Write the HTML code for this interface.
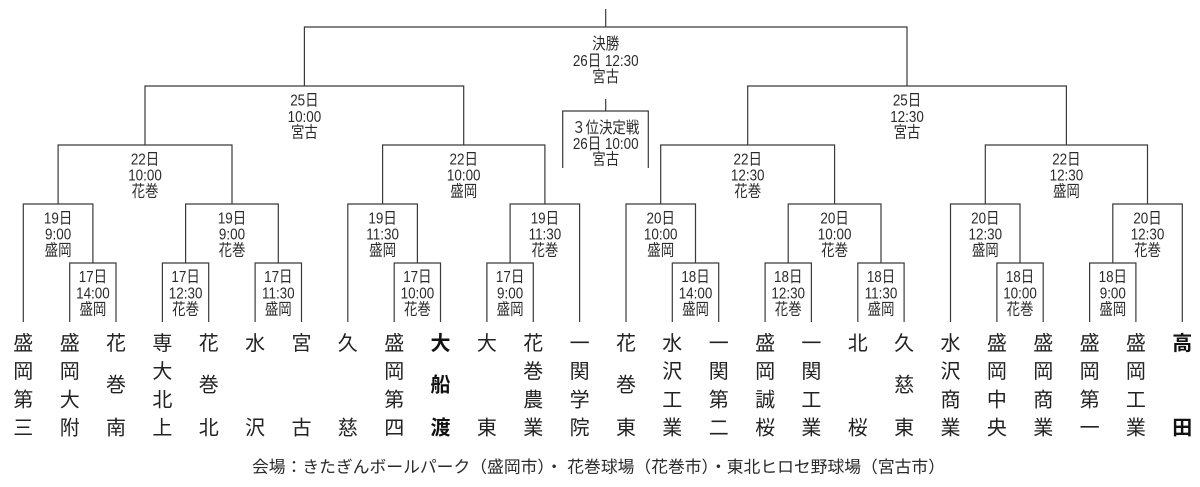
<!DOCTYPE html>
<html><head><meta charset="utf-8">
<style>
html,body{margin:0;padding:0;background:#fff;}
svg{display:block;}
.lb{font-family:"Liberation Sans","Noto Sans CJK JP",sans-serif;font-size:16px;fill:#2a2a2a;}
.tm{font-family:"Liberation Sans","Noto Sans CJK JP",sans-serif;font-size:20px;fill:#222;}
.bd{font-weight:bold;fill:#111;}
.cap{font-family:"Liberation Sans","Noto Sans CJK JP",sans-serif;font-size:16.5px;fill:#2a2a2a;}
</style></head>
<body>
<svg width="1200" height="487" viewBox="0 0 1200 487" xmlns="http://www.w3.org/2000/svg">
<g fill="none" stroke="#3a3a3a" stroke-width="1.2">
<!-- top -->
<path d="M605.7,9 V27"/>
<path d="M304.4,86 V27 H907 V86"/>
<!-- left half -->
<path d="M145,145 V86 H463.7 V145"/>
<path d="M58.1,204 V145 H232 V204"/>
<path d="M382.6,204 V145 H544.9 V204"/>
<path d="M23.3,322 V204 H92.9 V263"/>
<path d="M185.6,263 V204 H278.3 V263"/>
<path d="M347.8,322 V204 H417.4 V263"/>
<path d="M510.1,263 V204 H579.6 V322"/>
<path d="M69.7,322 V263 H116 V322"/>
<path d="M162.4,322 V263 H208.7 V322"/>
<path d="M255.1,322 V263 H301.5 V322"/>
<path d="M394.2,322 V263 H440.5 V322"/>
<path d="M486.9,322 V263 H533.3 V322"/>
<!-- right half -->
<path d="M747.7,145 V86 H1066.4 V145"/>
<path d="M660.7,204 V145 H834.6 V204"/>
<path d="M985.3,204 V145 H1147.5 V204"/>
<path d="M626,322 V204 H695.5 V263"/>
<path d="M788.2,263 V204 H881 V263"/>
<path d="M950.5,322 V204 H1020 V263"/>
<path d="M1112.8,263 V204 H1182.3 V322"/>
<path d="M672.3,322 V263 H718.7 V322"/>
<path d="M765.1,322 V263 H811.4 V322"/>
<path d="M857.8,322 V263 H904.1 V322"/>
<path d="M996.9,322 V263 H1043.2 V322"/>
<path d="M1089.6,322 V263 H1135.9 V322"/>
<!-- 3rd place -->
<path d="M605.7,99 V111"/>
<path d="M562.7,168 V111 H648.3 V168"/>
</g>

<g class="lb" text-anchor="middle">
<!-- final -->
<g transform="translate(605.7,0) scale(0.84,1)"><text x="0" y="49">決勝</text><text x="0" y="66">26日 12:30</text><text x="0" y="82">宮古</text></g>
<g transform="translate(605.7,0) scale(0.84,1)"><text x="0" y="133">３位決定戦</text><text x="0" y="149">26日 10:00</text><text x="0" y="164.5">宮古</text></g>
<!-- level1 -->
<g transform="translate(304.4,0) scale(0.84,1)"><text x="0" y="105.5">25日</text><text x="0" y="122">10:00</text><text x="0" y="137.5">宮古</text></g>
<g transform="translate(907,0) scale(0.84,1)"><text x="0" y="105.5">25日</text><text x="0" y="122">12:30</text><text x="0" y="137.5">宮古</text></g>
<!-- level2 -->
<g transform="translate(145,0) scale(0.84,1)"><text x="0" y="164.5">22日</text><text x="0" y="180.5">10:00</text><text x="0" y="196.5">花巻</text></g>
<g transform="translate(463.7,0) scale(0.84,1)"><text x="0" y="164.5">22日</text><text x="0" y="180.5">10:00</text><text x="0" y="196.5">盛岡</text></g>
<g transform="translate(747.7,0) scale(0.84,1)"><text x="0" y="164.5">22日</text><text x="0" y="180.5">12:30</text><text x="0" y="196.5">花巻</text></g>
<g transform="translate(1066.4,0) scale(0.84,1)"><text x="0" y="164.5">22日</text><text x="0" y="180.5">12:30</text><text x="0" y="196.5">盛岡</text></g>
<!-- level3 -->
<g transform="translate(58.1,0) scale(0.84,1)"><text x="0" y="223.5">19日</text><text x="0" y="239.5">9:00</text><text x="0" y="255.5">盛岡</text></g>
<g transform="translate(232,0) scale(0.84,1)"><text x="0" y="223.5">19日</text><text x="0" y="239.5">9:00</text><text x="0" y="255.5">花巻</text></g>
<g transform="translate(382.6,0) scale(0.84,1)"><text x="0" y="223.5">19日</text><text x="0" y="239.5">11:30</text><text x="0" y="255.5">盛岡</text></g>
<g transform="translate(544.9,0) scale(0.84,1)"><text x="0" y="223.5">19日</text><text x="0" y="239.5">11:30</text><text x="0" y="255.5">花巻</text></g>
<g transform="translate(660.7,0) scale(0.84,1)"><text x="0" y="223.5">20日</text><text x="0" y="239.5">10:00</text><text x="0" y="255.5">盛岡</text></g>
<g transform="translate(834.6,0) scale(0.84,1)"><text x="0" y="223.5">20日</text><text x="0" y="239.5">10:00</text><text x="0" y="255.5">花巻</text></g>
<g transform="translate(985.3,0) scale(0.84,1)"><text x="0" y="223.5">20日</text><text x="0" y="239.5">12:30</text><text x="0" y="255.5">盛岡</text></g>
<g transform="translate(1147.5,0) scale(0.84,1)"><text x="0" y="223.5">20日</text><text x="0" y="239.5">12:30</text><text x="0" y="255.5">花巻</text></g>
<!-- level4 -->
<g transform="translate(92.9,0) scale(0.84,1)"><text x="0" y="282">17日</text><text x="0" y="298.5">14:00</text><text x="0" y="314.5">盛岡</text></g>
<g transform="translate(185.6,0) scale(0.84,1)"><text x="0" y="282">17日</text><text x="0" y="298.5">12:30</text><text x="0" y="314.5">花巻</text></g>
<g transform="translate(278.3,0) scale(0.84,1)"><text x="0" y="282">17日</text><text x="0" y="298.5">11:30</text><text x="0" y="314.5">盛岡</text></g>
<g transform="translate(417.4,0) scale(0.84,1)"><text x="0" y="282">17日</text><text x="0" y="298.5">10:00</text><text x="0" y="314.5">花巻</text></g>
<g transform="translate(510.1,0) scale(0.84,1)"><text x="0" y="282">17日</text><text x="0" y="298.5">9:00</text><text x="0" y="314.5">盛岡</text></g>
<g transform="translate(695.5,0) scale(0.84,1)"><text x="0" y="282">18日</text><text x="0" y="298.5">14:00</text><text x="0" y="314.5">盛岡</text></g>
<g transform="translate(788.2,0) scale(0.84,1)"><text x="0" y="282">18日</text><text x="0" y="298.5">12:30</text><text x="0" y="314.5">花巻</text></g>
<g transform="translate(881,0) scale(0.84,1)"><text x="0" y="282">18日</text><text x="0" y="298.5">11:30</text><text x="0" y="314.5">盛岡</text></g>
<g transform="translate(1020,0) scale(0.84,1)"><text x="0" y="282">18日</text><text x="0" y="298.5">10:00</text><text x="0" y="314.5">花巻</text></g>
<g transform="translate(1112.8,0) scale(0.84,1)"><text x="0" y="282">18日</text><text x="0" y="298.5">9:00</text><text x="0" y="314.5">盛岡</text></g>
</g>

<g class="tm" text-anchor="middle">
<!-- 4-char rows: 350, 378, 406.5, 434.5 ; 3-char middle 391.5 -->
<text x="23.3" y="350">盛</text><text x="23.3" y="378">岡</text><text x="23.3" y="406.5">第</text><text x="23.3" y="434.5">三</text>
<text x="69.7" y="350">盛</text><text x="69.7" y="378">岡</text><text x="69.7" y="406.5">大</text><text x="69.7" y="434.5">附</text>
<text x="116" y="350">花</text><text x="116" y="391.5">巻</text><text x="116" y="434.5">南</text>
<text x="162.4" y="350">専</text><text x="162.4" y="378">大</text><text x="162.4" y="406.5">北</text><text x="162.4" y="434.5">上</text>
<text x="208.7" y="350">花</text><text x="208.7" y="391.5">巻</text><text x="208.7" y="434.5">北</text>
<text x="255.1" y="350">水</text><text x="255.1" y="434.5">沢</text>
<text x="301.5" y="350">宮</text><text x="301.5" y="434.5">古</text>
<text x="347.8" y="350">久</text><text x="347.8" y="434.5">慈</text>
<text x="394.2" y="350">盛</text><text x="394.2" y="378">岡</text><text x="394.2" y="406.5">第</text><text x="394.2" y="434.5">四</text>
<g class="bd"><text x="440.5" y="350">大</text><text x="440.5" y="391.5">船</text><text x="440.5" y="434.5">渡</text></g>
<text x="486.9" y="350">大</text><text x="486.9" y="434.5">東</text>
<text x="533.3" y="350">花</text><text x="533.3" y="378">巻</text><text x="533.3" y="406.5">農</text><text x="533.3" y="434.5">業</text>
<text x="579.6" y="350">一</text><text x="579.6" y="378">関</text><text x="579.6" y="406.5">学</text><text x="579.6" y="434.5">院</text>
<text x="626" y="350">花</text><text x="626" y="391.5">巻</text><text x="626" y="434.5">東</text>
<text x="672.3" y="350">水</text><text x="672.3" y="378">沢</text><text x="672.3" y="406.5">工</text><text x="672.3" y="434.5">業</text>
<text x="718.7" y="350">一</text><text x="718.7" y="378">関</text><text x="718.7" y="406.5">第</text><text x="718.7" y="434.5">二</text>
<text x="765.1" y="350">盛</text><text x="765.1" y="378">岡</text><text x="765.1" y="406.5">誠</text><text x="765.1" y="434.5">桜</text>
<text x="811.4" y="350">一</text><text x="811.4" y="378">関</text><text x="811.4" y="406.5">工</text><text x="811.4" y="434.5">業</text>
<text x="857.8" y="350">北</text><text x="857.8" y="434.5">桜</text>
<text x="904.1" y="350">久</text><text x="904.1" y="391.5">慈</text><text x="904.1" y="434.5">東</text>
<text x="950.5" y="350">水</text><text x="950.5" y="378">沢</text><text x="950.5" y="406.5">商</text><text x="950.5" y="434.5">業</text>
<text x="996.9" y="350">盛</text><text x="996.9" y="378">岡</text><text x="996.9" y="406.5">中</text><text x="996.9" y="434.5">央</text>
<text x="1043.2" y="350">盛</text><text x="1043.2" y="378">岡</text><text x="1043.2" y="406.5">商</text><text x="1043.2" y="434.5">業</text>
<text x="1089.6" y="350">盛</text><text x="1089.6" y="378">岡</text><text x="1089.6" y="406.5">第</text><text x="1089.6" y="434.5">一</text>
<text x="1135.9" y="350">盛</text><text x="1135.9" y="378">岡</text><text x="1135.9" y="406.5">工</text><text x="1135.9" y="434.5">業</text>
<g class="bd"><text x="1182.3" y="350">高</text><text x="1182.3" y="434.5">田</text></g>
</g>

<text class="cap" x="252" y="472.5" textLength="693" lengthAdjust="spacingAndGlyphs">会場：きたぎんボールパーク（盛岡市）・ 花巻球場（花巻市）・東北ヒロセ野球場（宮古市）</text>
</svg>
</body></html>
